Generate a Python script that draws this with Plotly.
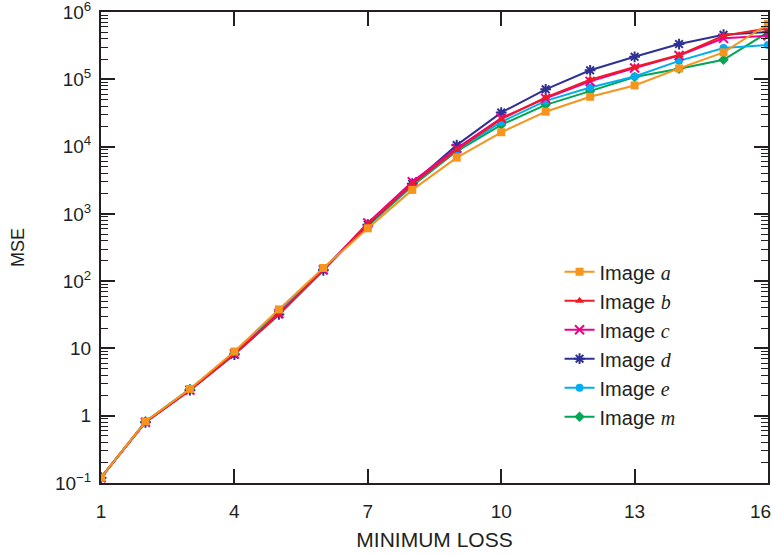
import plotly.graph_objects as go

loss = list(range(1, 17))

mse_a = [0.12, 0.82, 2.5, 9.0, 38, 157, 610, 2270, 6850, 16300, 33000, 55000, 81000, 145000, 251000, 660000]
mse_b = [0.12, 0.80, 2.4, 8.2, 32, 146, 700, 2750, 8900, 25500, 54000, 99000, 152000, 229000, 444000, 570000]
mse_c = [0.12, 0.80, 2.4, 8.3, 33, 148, 730, 3000, 9400, 26500, 52000, 93000, 147000, 226000, 406000, 444000]
mse_d = [0.12, 0.80, 2.4, 8.1, 32, 145, 690, 2800, 10500, 32000, 71000, 136000, 216000, 334000, 459000, 505000]
mse_e = [0.12, 0.81, 2.5, 8.4, 34, 150, 680, 2700, 8800, 23200, 47800, 75700, 110000, 188000, 291000, 323000]
mse_m = [0.12, 0.82, 2.5, 8.5, 35, 152, 660, 2600, 8500, 21000, 41700, 66700, 108000, 143000, 195000, 500000]

x_ticks = [1, 4, 7, 10, 13, 16]
x_ticktext = ["1", "4", "7", "10", "13", ""]
x_edge_label = "16"  # drawn right-aligned at the last tick so it stays on the page
y_tickvals = [0.1, 1, 10, 100, 1000, 1e4, 1e5, 1e6]
y_ticktext = ["10<sup>\u22121</sup>", "1", "10", "10<sup>2</sup>", "10<sup>3</sup>",
              "10<sup>4</sup>", "10<sup>5</sup>", "10<sup>6</sup>"]

def label(letter):
    return ("Image <span style=\"font-family:'Liberation Serif', 'DejaVu Serif', serif\">"
            f"<i>{letter}</i></span>")

# (letter, values, colour, symbol, legend rank); later traces are drawn on top
series = [
    ("m", mse_m, "#00A651", "diamond", 6),
    ("e", mse_e, "#00AEEF", "circle", 5),
    ("d", mse_d, "#2E3192", "asterisk-open", 4),
    ("c", mse_c, "#EC008C", "x-thin-open", 3),
    ("b", mse_b, "#ED1C24", "triangle-up", 2),
    ("a", mse_a, "#F7941D", "square", 1),
]

fig = go.Figure()
for letter, vals, color, symbol, rank in series:
    open_sym = symbol.endswith("open")
    fig.add_trace(go.Scatter(
        x=loss, y=vals, mode="lines+markers", name=label(letter),
        legendrank=rank,
        line=dict(color=color, width=2),
        marker=dict(symbol=symbol, size=9 if open_sym else 8, color=color,
                    line=dict(color=color, width=2 if open_sym else 0)),
    ))

axis_color = "#231F20"
font_family = "Liberation Sans, Arial, Helvetica, sans-serif"

minor_vals = [k * 10 ** e for e in range(-1, 6) for k in range(2, 10)]

fig.add_annotation(
    x=x_ticks[-1], xref="x", y=0, yref="paper",
    text=x_edge_label, showarrow=False,
    xanchor="right", yanchor="middle", xshift=5, yshift=-28,
    font=dict(size=19, family=font_family, color="#231F20"),
)

fig.update_layout(
    width=772, height=555,
    margin=dict(l=101, r=4, t=12, b=72),
    paper_bgcolor="white", plot_bgcolor="white",
    font=dict(family=font_family, size=19, color="#231F20"),
    showlegend=True,
    legend=dict(
        x=0.6875, y=0.49, xanchor="left", yanchor="top",
        bgcolor="rgba(0,0,0,0)", borderwidth=0,
        font=dict(size=20, family=font_family, color="#231F20"),
        traceorder="normal",
        itemwidth=30,
    ),
    xaxis=dict(
        range=[1, 16], tickmode="array", tickvals=x_ticks, ticktext=x_ticktext,
        ticks="inside", ticklen=14, tickwidth=1.5, tickcolor=axis_color,
        showline=True, linecolor=axis_color, linewidth=2, mirror="allticks",
        showgrid=False, zeroline=False, automargin=False,
        ticklabeloverflow="allow", ticklabelstandoff=10,
        title=dict(text="MINIMUM LOSS", font=dict(size=21), standoff=12),
        tickfont=dict(size=19),
    ),
    yaxis=dict(
        type="log", range=[-1, 6], tickmode="array",
        tickvals=y_tickvals, ticktext=y_ticktext,
        ticks="inside", ticklen=14, tickwidth=1.5, tickcolor=axis_color,
        showline=True, linecolor=axis_color, linewidth=2, mirror="allticks",
        showgrid=False, zeroline=False, automargin=False,
        ticklabeloverflow="allow", ticklabelstandoff=4,
        minor=dict(tickmode="array", tickvals=minor_vals, ticks="inside",
                   ticklen=7, tickwidth=1.2, tickcolor=axis_color, showgrid=False),
        title=dict(text="MSE", font=dict(size=18), standoff=26),
        tickfont=dict(size=19),
    ),
)

fig.write_html("out.html")
